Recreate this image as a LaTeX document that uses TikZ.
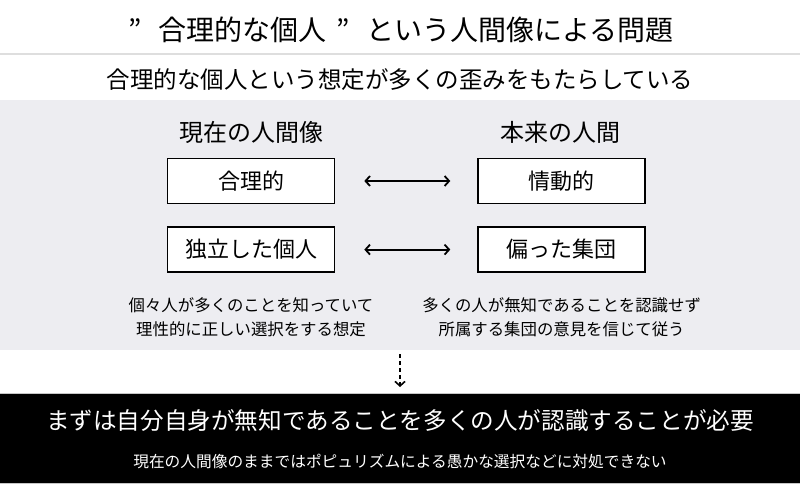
\documentclass[tikz,border=0pt]{standalone}
\usepackage{fontspec}
\setmainfont{Noto Sans CJK JP}
\usetikzlibrary{arrows.meta,positioning}
\definecolor{bandgray}{RGB}{237,237,241}
\definecolor{rulegray}{RGB}{222,222,222}
\newcommand{\qgap}{\hspace{17bp}}
\tikzset {
    box/.style={draw, line width=1.6bp, fill=white, minimum width=167bp,
        minimum height=45bp, inner sep=0pt,
        font=\fontsize{22bp}{26bp}\selectfont},
    header/.style={font=\fontsize{24bp}{28bp}\selectfont},
    note/.style={align=center, inner sep=0pt,
        font=\fontsize{16.4bp}{24bp}\selectfont},
    banner/.style={text=white, inner sep=0pt},
    pair/.style={<->, line width=1.8bp, shorten <=29bp, shorten >=27bp},
    >={Straight Barb[length=4.5bp,width=10bp]}
}
\begin{document}
\begin{tikzpicture}[x=1bp, y=-1bp, node distance=22bp and 142bp]

    \useasboundingbox (0,0) rectangle (800,500);

    \node[font=\fontsize{28bp}{32bp}\selectfont] (title) at (401,30)
        {”\qgap 合理的な個人\hspace{10bp}”\qgap という人間像による問題};
    \draw[rulegray, line width=1.5bp] (0,54) -- (800,54);
    \node[font=\fontsize{23.5bp}{28bp}\selectfont] (lead) at (400,80)
        {合理的な個人という想定が多くの歪みをもたらしている};

    \node[fill=bandgray, minimum width=800bp, minimum height=250bp,
        inner sep=0pt] (band) at (400,225) {};

    \node[header] (nowHead) at (251,132) {現在の人間像};
    \node[header] (realHead) at (560.5,132) {本来の人間};

    \node[box] (rational) at (251,181) {合理的};
    \node[box, right=of rational] (emotional) {情動的};
    \node[box, below=of rational] (individual) {独立した個人};
    \node[box, below=of emotional] (group) {偏った集団};

    \node[note, below=25bp of individual] (nowNote)
        {個々人が多くのことを知っていて\\理性的に正しい選択をする想定};
    \node[note, below=25bp of group] (realNote)
        {多くの人が無知であることを認識せず\\所属する集団の意見を信じて従う};

    \node[fill=black, draw=gray!45, line width=1bp, minimum width=804bp,
        minimum height=90bp, inner sep=0pt] (concl) at (400,438.5) {};
    \node[banner, font=\fontsize{23.6bp}{28bp}\selectfont] (need) at (400,421)
        {まずは自分自身が無知であることを多くの人が認識することが必要};
    \node[banner, font=\fontsize{15.7bp}{20bp}\selectfont] (cannot) at (400,462)
        {現在の人間像のままではポピュリズムによる愚かな選択などに対処できない};

    \draw[pair] (rational) -- (emotional);
    \draw[pair] (individual) -- (group);

    \draw[->, dash pattern=on 4bp off 3bp, line width=1.6bp,
        shorten <=4bp, shorten >=6bp] (band.south) -- (concl.north);

\end{tikzpicture}
\end{document}
